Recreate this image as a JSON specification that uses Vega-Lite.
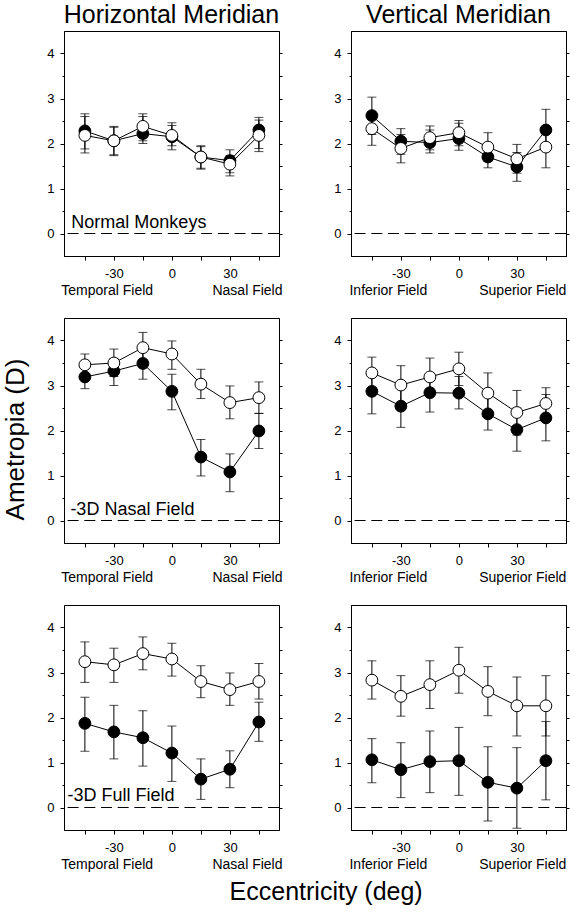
{
  "$schema": "https://vega.github.io/schema/vega-lite/v6.json",
  "padding": {"left": 2, "top": 2, "right": 4, "bottom": 4},
  "background": "white",
  "config": {
    "font": "Liberation Sans",
    "view": {"stroke": "black", "strokeWidth": 1},
    "axis": {"grid": false, "domainColor": "black", "domainWidth": 1, "tickColor": "black", "tickWidth": 1, "labelColor": "black", "labelFont": "Liberation Sans", "labelFontSize": 13, "titleColor": "black", "titleFont": "Liberation Sans", "titleFontWeight": "normal"},
    "title": {"font": "Liberation Sans", "fontWeight": "normal", "color": "black"},
    "text": {"font": "Liberation Sans", "color": "black"}
  },
  "datasets": {
    "d": [
      {"p":"H1","s":"c","x":-45,"y":2.28,"lo":1.88,"hi":2.66},
      {"p":"H1","s":"c","x":-30,"y":2.06,"lo":1.75,"hi":2.38},
      {"p":"H1","s":"c","x":-15,"y":2.22,"lo":2.0,"hi":2.6},
      {"p":"H1","s":"c","x":0,"y":2.15,"lo":1.86,"hi":2.4},
      {"p":"H1","s":"c","x":15,"y":1.7,"lo":1.45,"hi":1.93},
      {"p":"H1","s":"c","x":30,"y":1.62,"lo":1.35,"hi":1.86},
      {"p":"H1","s":"c","x":45,"y":2.3,"lo":1.89,"hi":2.58},
      {"p":"H1","s":"o","x":-45,"y":2.18,"lo":1.79,"hi":2.6},
      {"p":"H1","s":"o","x":-30,"y":2.06,"lo":1.73,"hi":2.36},
      {"p":"H1","s":"o","x":-15,"y":2.38,"lo":2.06,"hi":2.66},
      {"p":"H1","s":"o","x":0,"y":2.18,"lo":1.95,"hi":2.46},
      {"p":"H1","s":"o","x":15,"y":1.7,"lo":1.43,"hi":1.95},
      {"p":"H1","s":"o","x":30,"y":1.54,"lo":1.28,"hi":1.73},
      {"p":"H1","s":"o","x":45,"y":2.18,"lo":1.82,"hi":2.52},

      {"p":"V1","s":"c","x":-45,"y":2.62,"lo":2.2,"hi":3.03},
      {"p":"V1","s":"c","x":-30,"y":2.05,"lo":1.76,"hi":2.33},
      {"p":"V1","s":"c","x":-15,"y":2.02,"lo":1.79,"hi":2.3},
      {"p":"V1","s":"c","x":0,"y":2.11,"lo":1.85,"hi":2.45},
      {"p":"V1","s":"c","x":15,"y":1.7,"lo":1.46,"hi":1.95},
      {"p":"V1","s":"c","x":30,"y":1.48,"lo":1.16,"hi":1.8},
      {"p":"V1","s":"c","x":45,"y":2.3,"lo":1.84,"hi":2.76},
      {"p":"V1","s":"o","x":-45,"y":2.33,"lo":1.96,"hi":2.7},
      {"p":"V1","s":"o","x":-30,"y":1.89,"lo":1.57,"hi":2.2},
      {"p":"V1","s":"o","x":-15,"y":2.13,"lo":1.86,"hi":2.39},
      {"p":"V1","s":"o","x":0,"y":2.24,"lo":1.95,"hi":2.51},
      {"p":"V1","s":"o","x":15,"y":1.92,"lo":1.6,"hi":2.24},
      {"p":"V1","s":"o","x":30,"y":1.66,"lo":1.34,"hi":1.98},
      {"p":"V1","s":"o","x":45,"y":1.92,"lo":1.46,"hi":2.38},

      {"p":"H2","s":"c","x":-45,"y":3.19,"lo":2.93,"hi":3.45},
      {"p":"H2","s":"c","x":-30,"y":3.32,"lo":3.0,"hi":3.6},
      {"p":"H2","s":"c","x":-15,"y":3.49,"lo":3.14,"hi":3.8},
      {"p":"H2","s":"c","x":0,"y":2.87,"lo":2.46,"hi":3.25},
      {"p":"H2","s":"c","x":15,"y":1.41,"lo":0.99,"hi":1.8},
      {"p":"H2","s":"c","x":30,"y":1.08,"lo":0.64,"hi":1.48},
      {"p":"H2","s":"c","x":45,"y":1.99,"lo":1.6,"hi":2.38},
      {"p":"H2","s":"o","x":-45,"y":3.46,"lo":3.2,"hi":3.7},
      {"p":"H2","s":"o","x":-30,"y":3.5,"lo":3.2,"hi":3.81},
      {"p":"H2","s":"o","x":-15,"y":3.84,"lo":3.5,"hi":4.18},
      {"p":"H2","s":"o","x":0,"y":3.7,"lo":3.36,"hi":3.99},
      {"p":"H2","s":"o","x":15,"y":3.03,"lo":2.71,"hi":3.36},
      {"p":"H2","s":"o","x":30,"y":2.62,"lo":2.26,"hi":2.99},
      {"p":"H2","s":"o","x":45,"y":2.73,"lo":2.38,"hi":3.08},

      {"p":"V2","s":"c","x":-45,"y":2.87,"lo":2.37,"hi":3.3},
      {"p":"V2","s":"c","x":-30,"y":2.54,"lo":2.07,"hi":3.0},
      {"p":"V2","s":"c","x":-15,"y":2.84,"lo":2.41,"hi":3.25},
      {"p":"V2","s":"c","x":0,"y":2.83,"lo":2.48,"hi":3.2},
      {"p":"V2","s":"c","x":15,"y":2.37,"lo":2.01,"hi":2.75},
      {"p":"V2","s":"c","x":30,"y":2.02,"lo":1.54,"hi":2.5},
      {"p":"V2","s":"c","x":45,"y":2.28,"lo":1.77,"hi":2.8},
      {"p":"V2","s":"o","x":-45,"y":3.28,"lo":2.95,"hi":3.63},
      {"p":"V2","s":"o","x":-30,"y":3.01,"lo":2.6,"hi":3.44},
      {"p":"V2","s":"o","x":-15,"y":3.19,"lo":2.8,"hi":3.61},
      {"p":"V2","s":"o","x":0,"y":3.37,"lo":3.0,"hi":3.74},
      {"p":"V2","s":"o","x":15,"y":2.83,"lo":2.4,"hi":3.28},
      {"p":"V2","s":"o","x":30,"y":2.4,"lo":1.9,"hi":2.89},
      {"p":"V2","s":"o","x":45,"y":2.6,"lo":2.25,"hi":2.95},

      {"p":"H3","s":"c","x":-45,"y":1.87,"lo":1.25,"hi":2.45},
      {"p":"H3","s":"c","x":-30,"y":1.68,"lo":1.08,"hi":2.27},
      {"p":"H3","s":"c","x":-15,"y":1.55,"lo":0.92,"hi":2.15},
      {"p":"H3","s":"c","x":0,"y":1.21,"lo":0.58,"hi":1.81},
      {"p":"H3","s":"c","x":15,"y":0.63,"lo":0.18,"hi":1.08},
      {"p":"H3","s":"c","x":30,"y":0.85,"lo":0.44,"hi":1.26},
      {"p":"H3","s":"c","x":45,"y":1.9,"lo":1.47,"hi":2.34},
      {"p":"H3","s":"o","x":-45,"y":3.24,"lo":2.78,"hi":3.68},
      {"p":"H3","s":"o","x":-30,"y":3.17,"lo":2.78,"hi":3.54},
      {"p":"H3","s":"o","x":-15,"y":3.42,"lo":3.06,"hi":3.79},
      {"p":"H3","s":"o","x":0,"y":3.3,"lo":2.92,"hi":3.65},
      {"p":"H3","s":"o","x":15,"y":2.8,"lo":2.44,"hi":3.15},
      {"p":"H3","s":"o","x":30,"y":2.62,"lo":2.27,"hi":2.99},
      {"p":"H3","s":"o","x":45,"y":2.8,"lo":2.41,"hi":3.2},

      {"p":"V3","s":"c","x":-45,"y":1.06,"lo":0.55,"hi":1.53},
      {"p":"V3","s":"c","x":-30,"y":0.84,"lo":0.22,"hi":1.44},
      {"p":"V3","s":"c","x":-15,"y":1.02,"lo":0.33,"hi":1.7},
      {"p":"V3","s":"c","x":0,"y":1.04,"lo":0.27,"hi":1.78},
      {"p":"V3","s":"c","x":15,"y":0.56,"lo":-0.3,"hi":1.35},
      {"p":"V3","s":"c","x":30,"y":0.43,"lo":-0.46,"hi":1.33},
      {"p":"V3","s":"c","x":45,"y":1.04,"lo":0.17,"hi":1.91},
      {"p":"V3","s":"o","x":-45,"y":2.83,"lo":2.41,"hi":3.26},
      {"p":"V3","s":"o","x":-30,"y":2.47,"lo":2.03,"hi":2.93},
      {"p":"V3","s":"o","x":-15,"y":2.73,"lo":2.2,"hi":3.26},
      {"p":"V3","s":"o","x":0,"y":3.05,"lo":2.54,"hi":3.56},
      {"p":"V3","s":"o","x":15,"y":2.58,"lo":2.04,"hi":3.13},
      {"p":"V3","s":"o","x":30,"y":2.26,"lo":1.59,"hi":2.9},
      {"p":"V3","s":"o","x":45,"y":2.26,"lo":1.59,"hi":2.93}
    ]
  },
  "columns": 2,
  "bounds": "flush",
  "spacing": {"row": 62, "column": 72},
  "title": {"text": "Eccentricity (deg)", "orient": "bottom", "anchor": "middle", "fontSize": 25, "baseline": "alphabetic", "offset": 28, "dx": 40},
  "concat": [
    {
      "width": 215, "height": 225,
      "data": {"name": "d"},
      "transform": [{"filter": "datum.p === 'H1'"}],
      "resolve": {"axis": {"x": "independent", "y": "independent"}},
      "layer": [
        {"data": {"values": [{"p": "H1"}]}, "mark": {"type": "rule", "color": "black", "strokeWidth": 1, "strokeDash": [11, 5.7]}, "encoding": {"y": {"datum": 0, "type": "quantitative", "scale": {"domain": [-0.5, 4.5], "nice": false, "zero": false}, "axis": null}}},
        {"mark": {"type": "rule", "color": "black", "strokeWidth": 1}, "encoding": {
          "x": {"field": "x", "type": "quantitative", "scale": {"domain": [-55.8, 55.4], "nice": false, "zero": false}, "axis": {"orient": "bottom", "values": [-45, -30, -15, 0, 15, 30, 45], "labelExpr": "datum.value % 30 === 0 ? '' + datum.value : ''", "tickSize": 4, "labelPadding": 7, "title": null, "labelOverlap": false, "labelFlush": false}},
          "y": {"field": "lo", "type": "quantitative", "scale": {"domain": [-0.5, 4.5], "nice": false, "zero": false}, "axis": {"orient": "left", "values": [0, 0.5, 1, 1.5, 2, 2.5, 3, 3.5, 4], "labelExpr": "datum.value % 1 === 0 ? '' + datum.value : ''", "tickSize": {"condition": {"test": "datum.value % 1 === 0", "value": 4}, "value": 2}, "labelPadding": 6, "title": null, "labelOverlap": false, "labelFlush": false}},
          "y2": {"field": "hi"}}},
        {"mark": {"type": "tick", "orient": "horizontal", "color": "black", "size": 9, "thickness": 1}, "encoding": {"x": {"field": "x", "type": "quantitative", "axis": null}, "y": {"field": "lo", "type": "quantitative", "axis": null}}},
        {"mark": {"type": "tick", "orient": "horizontal", "color": "black", "size": 9, "thickness": 1}, "encoding": {"x": {"field": "x", "type": "quantitative", "axis": null}, "y": {"field": "hi", "type": "quantitative", "axis": {"orient": "right", "values": [0, 0.5, 1, 1.5, 2, 2.5, 3, 3.5, 4], "labels": false, "tickSize": 3, "title": null}}}},
        {"mark": {"type": "line", "color": "black", "strokeWidth": 1}, "encoding": {"x": {"field": "x", "type": "quantitative", "axis": null}, "y": {"field": "y", "type": "quantitative", "axis": null}, "detail": {"field": "s"}}},
        {"mark": {"type": "point", "shape": "circle", "filled": true, "size": 140, "stroke": "black", "strokeWidth": 1, "opacity": 1}, "encoding": {"x": {"field": "x", "type": "quantitative", "axis": null}, "y": {"field": "y", "type": "quantitative", "axis": null}, "fill": {"field": "s", "type": "nominal", "scale": {"domain": ["c", "o"], "range": ["black", "white"]}, "legend": null}}},
        {"data": {"values": [{"p": "H1"}]}, "mark": {"type": "text", "align": "center", "baseline": "alphabetic", "fontSize": 25}, "encoding": {"x": {"datum": -0.2, "type": "quantitative", "axis": null}, "y": {"datum": 4.678, "type": "quantitative", "axis": null}, "text": {"value": "Horizontal Meridian"}}},
        {"data": {"values": [{"p": "H1"}]}, "mark": {"type": "text", "align": "left", "baseline": "alphabetic", "fontSize": 18}, "encoding": {"x": {"datum": -52, "type": "quantitative", "axis": null}, "y": {"datum": 0.12, "type": "quantitative", "axis": null}, "text": {"value": "Normal Monkeys"}}},
        {"data": {"values": [{"p": "H1"}]}, "mark": {"type": "text", "align": "left", "baseline": "alphabetic", "fontSize": 14}, "encoding": {"x": {"datum": -57.2, "type": "quantitative", "axis": null}, "y": {"datum": -1.36, "type": "quantitative", "axis": null}, "text": {"value": "Temporal Field"}}},
        {"data": {"values": [{"p": "H1"}]}, "mark": {"type": "text", "align": "right", "baseline": "alphabetic", "fontSize": 14}, "encoding": {"x": {"datum": 57.2, "type": "quantitative", "axis": null}, "y": {"datum": -1.36, "type": "quantitative", "axis": null}, "text": {"value": "Nasal Field"}}}
      ]
    },
    {
      "width": 215, "height": 225,
      "data": {"name": "d"},
      "transform": [{"filter": "datum.p === 'V1'"}],
      "resolve": {"axis": {"x": "independent", "y": "independent"}},
      "layer": [
        {"data": {"values": [{"p": "V1"}]}, "mark": {"type": "rule", "color": "black", "strokeWidth": 1, "strokeDash": [11, 5.7]}, "encoding": {"y": {"datum": 0, "type": "quantitative", "scale": {"domain": [-0.5, 4.5], "nice": false, "zero": false}, "axis": null}}},
        {"mark": {"type": "rule", "color": "black", "strokeWidth": 1}, "encoding": {
          "x": {"field": "x", "type": "quantitative", "scale": {"domain": [-55.8, 55.4], "nice": false, "zero": false}, "axis": {"orient": "bottom", "values": [-45, -30, -15, 0, 15, 30, 45], "labelExpr": "datum.value % 30 === 0 ? '' + datum.value : ''", "tickSize": 4, "labelPadding": 7, "title": null, "labelOverlap": false, "labelFlush": false}},
          "y": {"field": "lo", "type": "quantitative", "scale": {"domain": [-0.5, 4.5], "nice": false, "zero": false}, "axis": {"orient": "left", "values": [0, 0.5, 1, 1.5, 2, 2.5, 3, 3.5, 4], "labelExpr": "datum.value % 1 === 0 ? '' + datum.value : ''", "tickSize": {"condition": {"test": "datum.value % 1 === 0", "value": 4}, "value": 2}, "labelPadding": 6, "title": null, "labelOverlap": false, "labelFlush": false}},
          "y2": {"field": "hi"}}},
        {"mark": {"type": "tick", "orient": "horizontal", "color": "black", "size": 9, "thickness": 1}, "encoding": {"x": {"field": "x", "type": "quantitative", "axis": null}, "y": {"field": "lo", "type": "quantitative", "axis": null}}},
        {"mark": {"type": "tick", "orient": "horizontal", "color": "black", "size": 9, "thickness": 1}, "encoding": {"x": {"field": "x", "type": "quantitative", "axis": null}, "y": {"field": "hi", "type": "quantitative", "axis": {"orient": "right", "values": [0, 0.5, 1, 1.5, 2, 2.5, 3, 3.5, 4], "labels": false, "tickSize": 3, "title": null}}}},
        {"mark": {"type": "line", "color": "black", "strokeWidth": 1}, "encoding": {"x": {"field": "x", "type": "quantitative", "axis": null}, "y": {"field": "y", "type": "quantitative", "axis": null}, "detail": {"field": "s"}}},
        {"mark": {"type": "point", "shape": "circle", "filled": true, "size": 140, "stroke": "black", "strokeWidth": 1, "opacity": 1}, "encoding": {"x": {"field": "x", "type": "quantitative", "axis": null}, "y": {"field": "y", "type": "quantitative", "axis": null}, "fill": {"field": "s", "type": "nominal", "scale": {"domain": ["c", "o"], "range": ["black", "white"]}, "legend": null}}},
        {"data": {"values": [{"p": "V1"}]}, "mark": {"type": "text", "align": "center", "baseline": "alphabetic", "fontSize": 25}, "encoding": {"x": {"datum": -0.2, "type": "quantitative", "axis": null}, "y": {"datum": 4.678, "type": "quantitative", "axis": null}, "text": {"value": "Vertical Meridian"}}},
        {"data": {"values": [{"p": "V1"}]}, "mark": {"type": "text", "align": "left", "baseline": "alphabetic", "fontSize": 14}, "encoding": {"x": {"datum": -56.6, "type": "quantitative", "axis": null}, "y": {"datum": -1.36, "type": "quantitative", "axis": null}, "text": {"value": "Inferior Field"}}},
        {"data": {"values": [{"p": "V1"}]}, "mark": {"type": "text", "align": "right", "baseline": "alphabetic", "fontSize": 14}, "encoding": {"x": {"datum": 55.6, "type": "quantitative", "axis": null}, "y": {"datum": -1.36, "type": "quantitative", "axis": null}, "text": {"value": "Superior Field"}}}
      ]
    },
    {
      "width": 215, "height": 225,
      "data": {"name": "d"},
      "transform": [{"filter": "datum.p === 'H2'"}],
      "resolve": {"axis": {"x": "independent", "y": "independent"}},
      "layer": [
        {"data": {"values": [{"p": "H2"}]}, "mark": {"type": "rule", "color": "black", "strokeWidth": 1, "strokeDash": [11, 5.7]}, "encoding": {"y": {"datum": 0, "type": "quantitative", "scale": {"domain": [-0.5, 4.5], "nice": false, "zero": false}, "axis": null}}},
        {"mark": {"type": "rule", "color": "black", "strokeWidth": 1}, "encoding": {
          "x": {"field": "x", "type": "quantitative", "scale": {"domain": [-55.8, 55.4], "nice": false, "zero": false}, "axis": {"orient": "bottom", "values": [-45, -30, -15, 0, 15, 30, 45], "labelExpr": "datum.value % 30 === 0 ? '' + datum.value : ''", "tickSize": 4, "labelPadding": 7, "title": null, "labelOverlap": false, "labelFlush": false}},
          "y": {"field": "lo", "type": "quantitative", "scale": {"domain": [-0.5, 4.5], "nice": false, "zero": false}, "axis": {"orient": "left", "values": [0, 0.5, 1, 1.5, 2, 2.5, 3, 3.5, 4], "labelExpr": "datum.value % 1 === 0 ? '' + datum.value : ''", "tickSize": {"condition": {"test": "datum.value % 1 === 0", "value": 4}, "value": 2}, "labelPadding": 6, "title": "Ametropia (D)", "titleFontSize": 26, "titlePadding": 18, "titleY": 121, "labelOverlap": false, "labelFlush": false}},
          "y2": {"field": "hi"}}},
        {"mark": {"type": "tick", "orient": "horizontal", "color": "black", "size": 9, "thickness": 1}, "encoding": {"x": {"field": "x", "type": "quantitative", "axis": null}, "y": {"field": "lo", "type": "quantitative", "axis": null}}},
        {"mark": {"type": "tick", "orient": "horizontal", "color": "black", "size": 9, "thickness": 1}, "encoding": {"x": {"field": "x", "type": "quantitative", "axis": null}, "y": {"field": "hi", "type": "quantitative", "axis": {"orient": "right", "values": [0, 0.5, 1, 1.5, 2, 2.5, 3, 3.5, 4], "labels": false, "tickSize": 3, "title": null}}}},
        {"mark": {"type": "line", "color": "black", "strokeWidth": 1}, "encoding": {"x": {"field": "x", "type": "quantitative", "axis": null}, "y": {"field": "y", "type": "quantitative", "axis": null}, "detail": {"field": "s"}}},
        {"mark": {"type": "point", "shape": "circle", "filled": true, "size": 140, "stroke": "black", "strokeWidth": 1, "opacity": 1}, "encoding": {"x": {"field": "x", "type": "quantitative", "axis": null}, "y": {"field": "y", "type": "quantitative", "axis": null}, "fill": {"field": "s", "type": "nominal", "scale": {"domain": ["c", "o"], "range": ["black", "white"]}, "legend": null}}},
        {"data": {"values": [{"p": "H2"}]}, "mark": {"type": "text", "align": "left", "baseline": "alphabetic", "fontSize": 18}, "encoding": {"x": {"datum": -52.5, "type": "quantitative", "axis": null}, "y": {"datum": 0.12, "type": "quantitative", "axis": null}, "text": {"value": "-3D Nasal Field"}}},
        {"data": {"values": [{"p": "H2"}]}, "mark": {"type": "text", "align": "left", "baseline": "alphabetic", "fontSize": 14}, "encoding": {"x": {"datum": -57.2, "type": "quantitative", "axis": null}, "y": {"datum": -1.36, "type": "quantitative", "axis": null}, "text": {"value": "Temporal Field"}}},
        {"data": {"values": [{"p": "H2"}]}, "mark": {"type": "text", "align": "right", "baseline": "alphabetic", "fontSize": 14}, "encoding": {"x": {"datum": 57.2, "type": "quantitative", "axis": null}, "y": {"datum": -1.36, "type": "quantitative", "axis": null}, "text": {"value": "Nasal Field"}}}
      ]
    },
    {
      "width": 215, "height": 225,
      "data": {"name": "d"},
      "transform": [{"filter": "datum.p === 'V2'"}],
      "resolve": {"axis": {"x": "independent", "y": "independent"}},
      "layer": [
        {"data": {"values": [{"p": "V2"}]}, "mark": {"type": "rule", "color": "black", "strokeWidth": 1, "strokeDash": [11, 5.7]}, "encoding": {"y": {"datum": 0, "type": "quantitative", "scale": {"domain": [-0.5, 4.5], "nice": false, "zero": false}, "axis": null}}},
        {"mark": {"type": "rule", "color": "black", "strokeWidth": 1}, "encoding": {
          "x": {"field": "x", "type": "quantitative", "scale": {"domain": [-55.8, 55.4], "nice": false, "zero": false}, "axis": {"orient": "bottom", "values": [-45, -30, -15, 0, 15, 30, 45], "labelExpr": "datum.value % 30 === 0 ? '' + datum.value : ''", "tickSize": 4, "labelPadding": 7, "title": null, "labelOverlap": false, "labelFlush": false}},
          "y": {"field": "lo", "type": "quantitative", "scale": {"domain": [-0.5, 4.5], "nice": false, "zero": false}, "axis": {"orient": "left", "values": [0, 0.5, 1, 1.5, 2, 2.5, 3, 3.5, 4], "labelExpr": "datum.value % 1 === 0 ? '' + datum.value : ''", "tickSize": {"condition": {"test": "datum.value % 1 === 0", "value": 4}, "value": 2}, "labelPadding": 6, "title": null, "labelOverlap": false, "labelFlush": false}},
          "y2": {"field": "hi"}}},
        {"mark": {"type": "tick", "orient": "horizontal", "color": "black", "size": 9, "thickness": 1}, "encoding": {"x": {"field": "x", "type": "quantitative", "axis": null}, "y": {"field": "lo", "type": "quantitative", "axis": null}}},
        {"mark": {"type": "tick", "orient": "horizontal", "color": "black", "size": 9, "thickness": 1}, "encoding": {"x": {"field": "x", "type": "quantitative", "axis": null}, "y": {"field": "hi", "type": "quantitative", "axis": {"orient": "right", "values": [0, 0.5, 1, 1.5, 2, 2.5, 3, 3.5, 4], "labels": false, "tickSize": 3, "title": null}}}},
        {"mark": {"type": "line", "color": "black", "strokeWidth": 1}, "encoding": {"x": {"field": "x", "type": "quantitative", "axis": null}, "y": {"field": "y", "type": "quantitative", "axis": null}, "detail": {"field": "s"}}},
        {"mark": {"type": "point", "shape": "circle", "filled": true, "size": 140, "stroke": "black", "strokeWidth": 1, "opacity": 1}, "encoding": {"x": {"field": "x", "type": "quantitative", "axis": null}, "y": {"field": "y", "type": "quantitative", "axis": null}, "fill": {"field": "s", "type": "nominal", "scale": {"domain": ["c", "o"], "range": ["black", "white"]}, "legend": null}}},
        {"data": {"values": [{"p": "V2"}]}, "mark": {"type": "text", "align": "left", "baseline": "alphabetic", "fontSize": 14}, "encoding": {"x": {"datum": -56.6, "type": "quantitative", "axis": null}, "y": {"datum": -1.36, "type": "quantitative", "axis": null}, "text": {"value": "Inferior Field"}}},
        {"data": {"values": [{"p": "V2"}]}, "mark": {"type": "text", "align": "right", "baseline": "alphabetic", "fontSize": 14}, "encoding": {"x": {"datum": 55.6, "type": "quantitative", "axis": null}, "y": {"datum": -1.36, "type": "quantitative", "axis": null}, "text": {"value": "Superior Field"}}}
      ]
    },
    {
      "width": 215, "height": 225,
      "data": {"name": "d"},
      "transform": [{"filter": "datum.p === 'H3'"}],
      "resolve": {"axis": {"x": "independent", "y": "independent"}},
      "layer": [
        {"data": {"values": [{"p": "H3"}]}, "mark": {"type": "rule", "color": "black", "strokeWidth": 1, "strokeDash": [11, 5.7]}, "encoding": {"y": {"datum": 0, "type": "quantitative", "scale": {"domain": [-0.5, 4.5], "nice": false, "zero": false}, "axis": null}}},
        {"mark": {"type": "rule", "color": "black", "strokeWidth": 1}, "encoding": {
          "x": {"field": "x", "type": "quantitative", "scale": {"domain": [-55.8, 55.4], "nice": false, "zero": false}, "axis": {"orient": "bottom", "values": [-45, -30, -15, 0, 15, 30, 45], "labelExpr": "datum.value % 30 === 0 ? '' + datum.value : ''", "tickSize": 4, "labelPadding": 7, "title": null, "labelOverlap": false, "labelFlush": false}},
          "y": {"field": "lo", "type": "quantitative", "scale": {"domain": [-0.5, 4.5], "nice": false, "zero": false}, "axis": {"orient": "left", "values": [0, 0.5, 1, 1.5, 2, 2.5, 3, 3.5, 4], "labelExpr": "datum.value % 1 === 0 ? '' + datum.value : ''", "tickSize": {"condition": {"test": "datum.value % 1 === 0", "value": 4}, "value": 2}, "labelPadding": 6, "title": null, "labelOverlap": false, "labelFlush": false}},
          "y2": {"field": "hi"}}},
        {"mark": {"type": "tick", "orient": "horizontal", "color": "black", "size": 9, "thickness": 1}, "encoding": {"x": {"field": "x", "type": "quantitative", "axis": null}, "y": {"field": "lo", "type": "quantitative", "axis": null}}},
        {"mark": {"type": "tick", "orient": "horizontal", "color": "black", "size": 9, "thickness": 1}, "encoding": {"x": {"field": "x", "type": "quantitative", "axis": null}, "y": {"field": "hi", "type": "quantitative", "axis": {"orient": "right", "values": [0, 0.5, 1, 1.5, 2, 2.5, 3, 3.5, 4], "labels": false, "tickSize": 3, "title": null}}}},
        {"mark": {"type": "line", "color": "black", "strokeWidth": 1}, "encoding": {"x": {"field": "x", "type": "quantitative", "axis": null}, "y": {"field": "y", "type": "quantitative", "axis": null}, "detail": {"field": "s"}}},
        {"mark": {"type": "point", "shape": "circle", "filled": true, "size": 140, "stroke": "black", "strokeWidth": 1, "opacity": 1}, "encoding": {"x": {"field": "x", "type": "quantitative", "axis": null}, "y": {"field": "y", "type": "quantitative", "axis": null}, "fill": {"field": "s", "type": "nominal", "scale": {"domain": ["c", "o"], "range": ["black", "white"]}, "legend": null}}},
        {"data": {"values": [{"p": "H3"}]}, "mark": {"type": "text", "align": "left", "baseline": "alphabetic", "fontSize": 18}, "encoding": {"x": {"datum": -54, "type": "quantitative", "axis": null}, "y": {"datum": 0.14, "type": "quantitative", "axis": null}, "text": {"value": "-3D Full Field"}}},
        {"data": {"values": [{"p": "H3"}]}, "mark": {"type": "text", "align": "left", "baseline": "alphabetic", "fontSize": 14}, "encoding": {"x": {"datum": -57.2, "type": "quantitative", "axis": null}, "y": {"datum": -1.36, "type": "quantitative", "axis": null}, "text": {"value": "Temporal Field"}}},
        {"data": {"values": [{"p": "H3"}]}, "mark": {"type": "text", "align": "right", "baseline": "alphabetic", "fontSize": 14}, "encoding": {"x": {"datum": 57.2, "type": "quantitative", "axis": null}, "y": {"datum": -1.36, "type": "quantitative", "axis": null}, "text": {"value": "Nasal Field"}}}
      ]
    },
    {
      "width": 215, "height": 225,
      "data": {"name": "d"},
      "transform": [{"filter": "datum.p === 'V3'"}],
      "resolve": {"axis": {"x": "independent", "y": "independent"}},
      "layer": [
        {"data": {"values": [{"p": "V3"}]}, "mark": {"type": "rule", "color": "black", "strokeWidth": 1, "strokeDash": [11, 5.7]}, "encoding": {"y": {"datum": 0, "type": "quantitative", "scale": {"domain": [-0.5, 4.5], "nice": false, "zero": false}, "axis": null}}},
        {"mark": {"type": "rule", "color": "black", "strokeWidth": 1}, "encoding": {
          "x": {"field": "x", "type": "quantitative", "scale": {"domain": [-55.8, 55.4], "nice": false, "zero": false}, "axis": {"orient": "bottom", "values": [-45, -30, -15, 0, 15, 30, 45], "labelExpr": "datum.value % 30 === 0 ? '' + datum.value : ''", "tickSize": 4, "labelPadding": 7, "title": null, "labelOverlap": false, "labelFlush": false}},
          "y": {"field": "lo", "type": "quantitative", "scale": {"domain": [-0.5, 4.5], "nice": false, "zero": false}, "axis": {"orient": "left", "values": [0, 0.5, 1, 1.5, 2, 2.5, 3, 3.5, 4], "labelExpr": "datum.value % 1 === 0 ? '' + datum.value : ''", "tickSize": {"condition": {"test": "datum.value % 1 === 0", "value": 4}, "value": 2}, "labelPadding": 6, "title": null, "labelOverlap": false, "labelFlush": false}},
          "y2": {"field": "hi"}}},
        {"mark": {"type": "tick", "orient": "horizontal", "color": "black", "size": 9, "thickness": 1}, "encoding": {"x": {"field": "x", "type": "quantitative", "axis": null}, "y": {"field": "lo", "type": "quantitative", "axis": null}}},
        {"mark": {"type": "tick", "orient": "horizontal", "color": "black", "size": 9, "thickness": 1}, "encoding": {"x": {"field": "x", "type": "quantitative", "axis": null}, "y": {"field": "hi", "type": "quantitative", "axis": {"orient": "right", "values": [0, 0.5, 1, 1.5, 2, 2.5, 3, 3.5, 4], "labels": false, "tickSize": 3, "title": null}}}},
        {"mark": {"type": "line", "color": "black", "strokeWidth": 1}, "encoding": {"x": {"field": "x", "type": "quantitative", "axis": null}, "y": {"field": "y", "type": "quantitative", "axis": null}, "detail": {"field": "s"}}},
        {"mark": {"type": "point", "shape": "circle", "filled": true, "size": 140, "stroke": "black", "strokeWidth": 1, "opacity": 1}, "encoding": {"x": {"field": "x", "type": "quantitative", "axis": null}, "y": {"field": "y", "type": "quantitative", "axis": null}, "fill": {"field": "s", "type": "nominal", "scale": {"domain": ["c", "o"], "range": ["black", "white"]}, "legend": null}}},
        {"data": {"values": [{"p": "V3"}]}, "mark": {"type": "text", "align": "left", "baseline": "alphabetic", "fontSize": 14}, "encoding": {"x": {"datum": -56.6, "type": "quantitative", "axis": null}, "y": {"datum": -1.36, "type": "quantitative", "axis": null}, "text": {"value": "Inferior Field"}}},
        {"data": {"values": [{"p": "V3"}]}, "mark": {"type": "text", "align": "right", "baseline": "alphabetic", "fontSize": 14}, "encoding": {"x": {"datum": 55.6, "type": "quantitative", "axis": null}, "y": {"datum": -1.36, "type": "quantitative", "axis": null}, "text": {"value": "Superior Field"}}}
      ]
    }
  ]
}
